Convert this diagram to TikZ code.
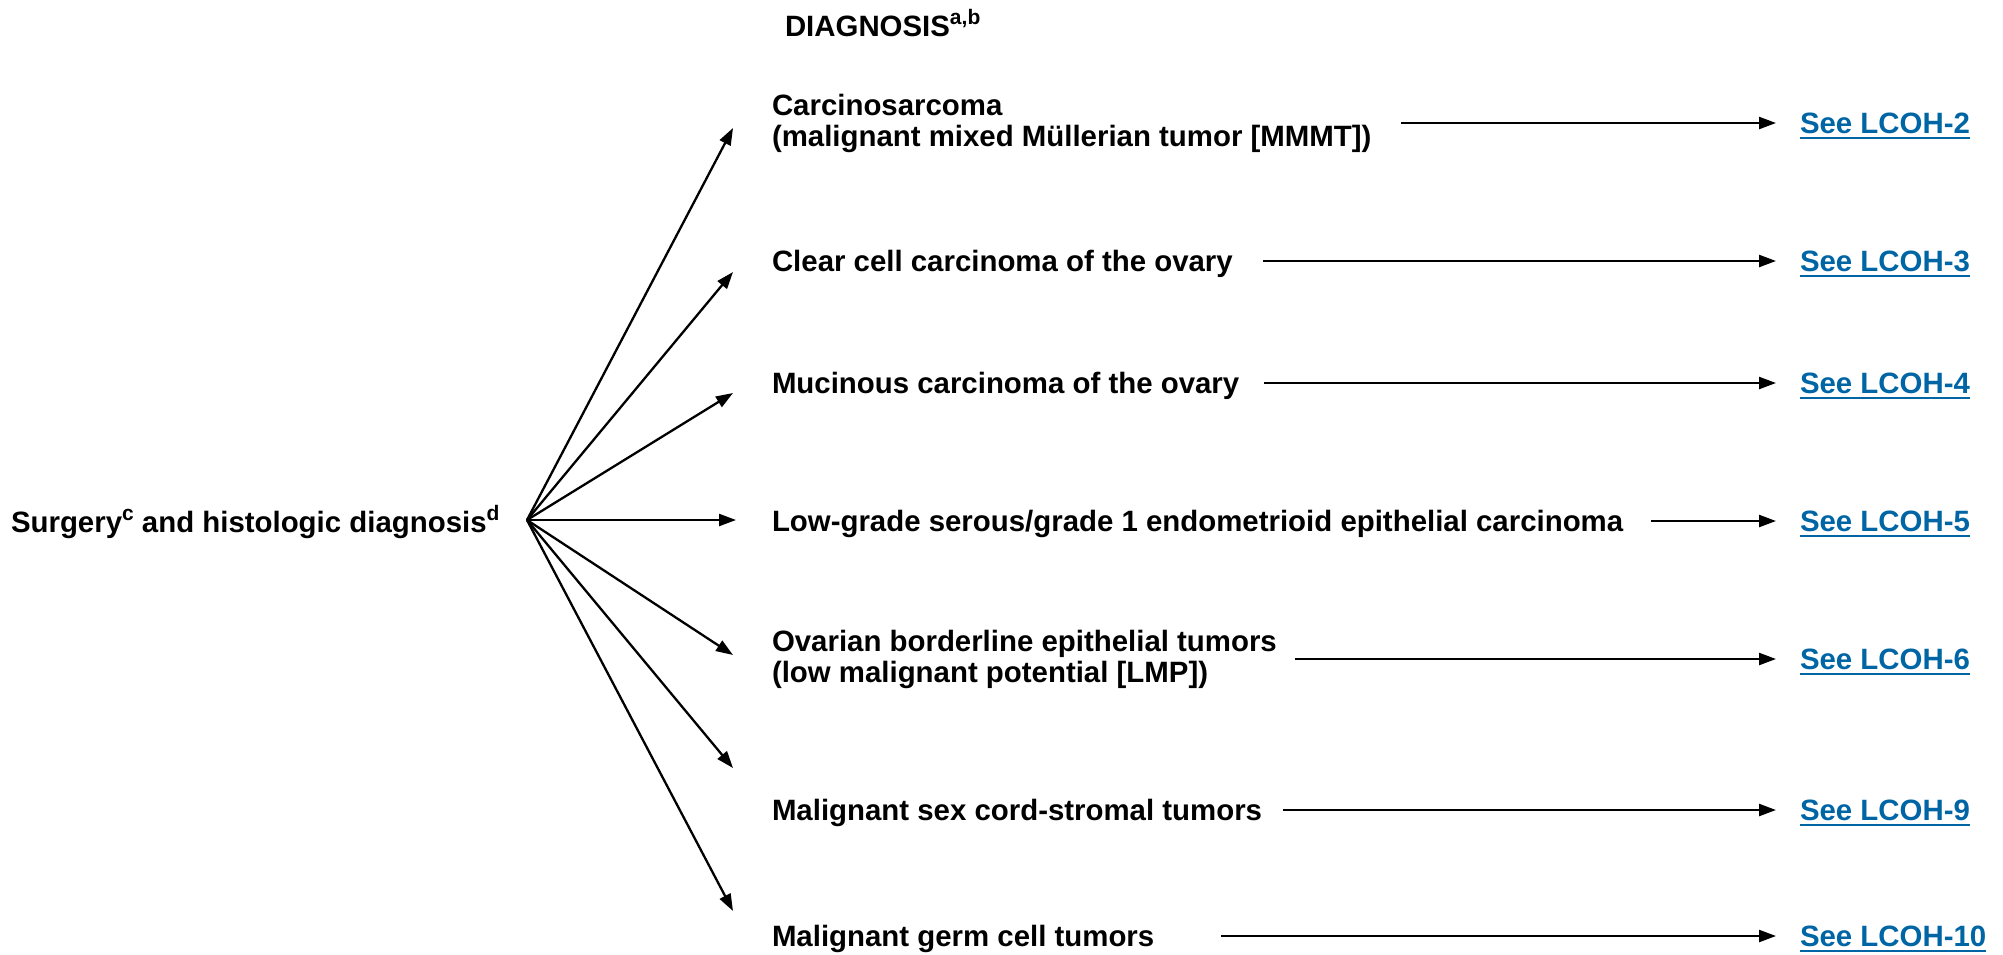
\documentclass[tikz,border=0pt]{standalone}
\usepackage{fontspec}
\setmainfont{Liberation Sans}
\usetikzlibrary{arrows.meta}
\definecolor{linkblue}{RGB}{0,101,164}
\newcommand{\myul}[1]{\leavevmode\setbox0\hbox{#1}\rlap{\rule[-5pt]{\wd0}{2pt}}\box0}
\newcommand{\mysup}[1]{\raisebox{12pt}{\fontsize{21}{21}\selectfont #1}}
\begin{document}
\begin{tikzpicture}[x=1pt,y=-1pt,
  every node/.style={inner sep=0pt, outer sep=0pt, font=\fontsize{29.4}{31}\selectfont\bfseries},
  lbl/.style={anchor=west, text height=21pt, text depth=0pt},
  lbltwo/.style={anchor=west, align=left},
  link/.style={anchor=west, text height=21pt, text depth=0pt, text=linkblue},
  arr/.style={line width=2.3pt, -{Triangle[length=17pt,width=12pt]}}]
\useasboundingbox (0,0) rectangle (2003,954);

\node[lbl] (title) at (785,25.5) {DIAGNOSIS\mysup{a,b}};
\node[lbl] (surg) at (11,522) {Surgery\mysup{c} and histologic diagnosis\mysup{d}};

\node[lbltwo] (c1) at (772,123) {Carcinosarcoma\\(malignant mixed Müllerian tumor [MMMT])};
\node[lbl] (c2) at (772,261) {Clear cell carcinoma of the ovary};
\node[lbl] (c3) at (772,383) {Mucinous carcinoma of the ovary};
\node[lbl] (c4) at (772,521) {Low-grade serous/grade 1 endometrioid epithelial carcinoma};
\node[lbltwo] (c5) at (772,659) {Ovarian borderline epithelial tumors\\(low malignant potential [LMP])};
\node[lbl] (c6) at (772,810) {Malignant sex cord-stromal tumors};
\node[lbl] (c7) at (772,936) {Malignant germ cell tumors};

\node[link] (l1) at (1800,123) {\myul{See LCOH-2}};
\node[link] (l2) at (1800,261) {\myul{See LCOH-3}};
\node[link] (l3) at (1800,383) {\myul{See LCOH-4}};
\node[link] (l4) at (1800,521) {\myul{See LCOH-5}};
\node[link] (l5) at (1800,659) {\myul{See LCOH-6}};
\node[link] (l6) at (1800,810) {\myul{See LCOH-9}};
\node[link] (l7) at (1800,936) {\myul{See LCOH-10}};

\coordinate (o) at (527,520);
\coordinate (t1) at (733,128);
\coordinate (t2) at (733,272);
\coordinate (t3) at (733,393);
\coordinate (t4) at (736,520);
\coordinate (t5) at (733,655);
\coordinate (t6) at (733,768);
\coordinate (t7) at (733,911);
\foreach \i in {1,...,7} {\draw[arr] (o) -- (t\i);}

\draw[arr, shorten <=30pt, shorten >=24pt] (c1.east) -- (l1.west);
\draw[arr, shorten <=30pt, shorten >=24pt] (c2.east) -- (l2.west);
\draw[arr, shorten <=25pt, shorten >=24pt] (c3.east) -- (l3.west);
\draw[arr, shorten <=28pt, shorten >=24pt] (c4.east) -- (l4.west);
\draw[arr, shorten <=18pt, shorten >=24pt] (c5.east) -- (l5.west);
\draw[arr, shorten <=21pt, shorten >=24pt] (c6.east) -- (l6.west);
\draw[arr, shorten <=67pt, shorten >=24pt] (c7.east) -- (l7.west);
\end{tikzpicture}
\end{document}
